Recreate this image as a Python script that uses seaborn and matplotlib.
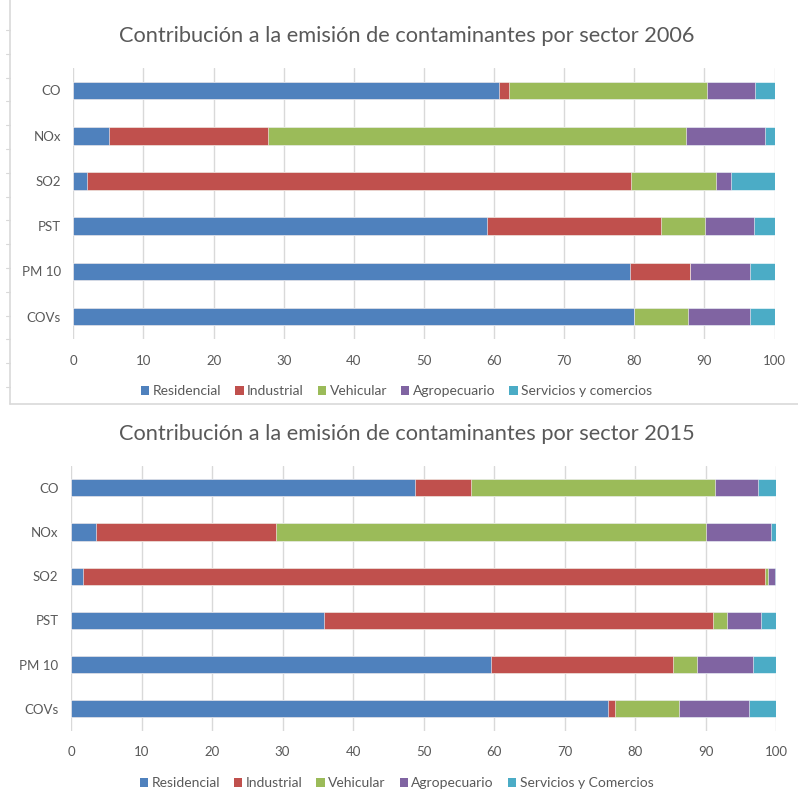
import matplotlib
matplotlib.use("Agg")
import matplotlib.pyplot as plt
from matplotlib.patches import Patch
from matplotlib.lines import Line2D
import numpy as np
import pandas as pd
import seaborn as sns

# Pollutants (top to bottom) and emission sectors
pollutants = ["CO", "NOx", "SO2", "PST", "PM 10", "COVs"]
sectors = ["Residencial", "Industrial", "Vehicular", "Agropecuario", "Servicios"]

# Percent contribution per sector, 2006
residencial_2006 = [60.7, 5.1, 2.0, 59.0, 79.4, 80.0]
industrial_2006 = [1.4, 22.7, 77.5, 24.8, 8.6, 0.0]
vehicular_2006 = [28.3, 59.6, 12.1, 6.3, 0.0, 7.7]
agropecuario_2006 = [6.8, 11.3, 2.2, 6.9, 8.5, 8.8]
servicios_2006 = [2.8, 1.3, 6.2, 3.0, 3.5, 3.5]

# Percent contribution per sector, 2015
residencial_2015 = [48.8, 3.6, 1.7, 35.9, 59.5, 76.1]
industrial_2015 = [8.0, 25.5, 96.8, 55.1, 25.9, 1.1]
vehicular_2015 = [34.5, 61.0, 0.4, 2.1, 3.4, 9.1]
agropecuario_2015 = [6.2, 9.2, 0.9, 4.7, 8.0, 9.8]
servicios_2015 = [2.5, 0.7, 0.2, 2.2, 3.2, 3.9]

title_2006 = "Contribución a la emisión de contaminantes por sector 2006"
title_2015 = "Contribución a la emisión de contaminantes por sector 2015"
legend_2006 = ["Residencial", "Industrial", "Vehicular", "Agropecuario", "Servicios y comercios"]
legend_2015 = ["Residencial", "Industrial", "Vehicular", "Agropecuario", "Servicios y Comercios"]
x_ticks = [0, 10, 20, 30, 40, 50, 60, 70, 80, 90, 100]

colors = ["#4F81BD", "#C0504D", "#9BBB59", "#8064A2", "#4BACC6"]
text_color = "#595959"
grid_color = "#D9D9D9"

sns.set_theme(style="white")
plt.rcParams["font.family"] = ["Lato", "DejaVu Sans"]

fig = plt.figure(figsize=(7.98, 8.00), dpi=100)


def stacked_panel(rect, series, title, title_y, legend_labels, legend_y):
    ax = fig.add_axes(rect)
    df = pd.DataFrame({name: vals for name, vals in zip(sectors, series)}, index=pollutants)
    cum = df.cumsum(axis=1)
    # Draw cumulative totals from the outermost sector inwards so each
    # segment shows as a stacked piece of the horizontal bar.
    for name, color in reversed(list(zip(sectors, colors))):
        part = pd.DataFrame({"pollutant": pollutants, "value": cum[name].values})
        sns.barplot(data=part, x="value", y="pollutant", orient="h", color=color,
                    width=0.39, saturation=1, ax=ax, edgecolor="white",
                    linewidth=0.4, errorbar=None)
    ax.set_xlim(0, 100)
    ax.set_ylim(5.5, -0.5)
    ax.set_xticks(x_ticks)
    ax.set_xticklabels([str(t) for t in x_ticks])
    ax.set_xlabel("")
    ax.set_ylabel("")
    for s in ax.spines.values():
        s.set_visible(False)
    ax.xaxis.grid(True, color=grid_color, linewidth=1.0)
    ax.yaxis.grid(False)
    ax.set_axisbelow(True)
    ax.tick_params(axis="both", length=0, colors=text_color, labelsize=9.5)
    ax.tick_params(axis="x", pad=11)
    ax.tick_params(axis="y", pad=9)
    fig.text(0.51, title_y, title, ha="center", va="center",
             fontsize=15.7, color=text_color)
    handles = [Patch(facecolor=c, edgecolor="none") for c in colors]
    fig.legend(handles, legend_labels, loc="center", bbox_to_anchor=(0.497, legend_y),
               ncol=5, frameon=False, fontsize=10.0, handlelength=0.6,
               handleheight=0.6, handletextpad=0.25, columnspacing=1.0,
               labelcolor=text_color)
    return ax


stacked_panel([0.0919, 0.5759, 0.8787, 0.3393],
              [residencial_2006, industrial_2006, vehicular_2006, agropecuario_2006, servicios_2006],
              title_2006, 1 - 36 / 800, legend_2006, 1 - 391 / 800)

stacked_panel([0.0890, 0.0865, 0.8835, 0.3314],
              [residencial_2015, industrial_2015, vehicular_2015, agropecuario_2015, servicios_2015],
              title_2015, 1 - 434 / 800, legend_2015, 1 - 783 / 800)

# Frame of the upper chart (left and bottom edges) with its small tick marks
border = "#D9D9D9"
fig.add_artist(Line2D([9.5 / 798, 9.5 / 798], [1.0, 1 - 404 / 800],
                      transform=fig.transFigure, color=border, linewidth=1.2))
fig.add_artist(Line2D([9.5 / 798, 1.0], [1 - 404 / 800, 1 - 404 / 800],
                      transform=fig.transFigure, color=border, linewidth=1.2))
for yy in np.arange(30, 400, 23.8):
    fig.add_artist(Line2D([6 / 798, 9.5 / 798], [1 - yy / 800, 1 - yy / 800],
                          transform=fig.transFigure, color=border, linewidth=0.8))

fig.savefig("out.png", dpi=100)
